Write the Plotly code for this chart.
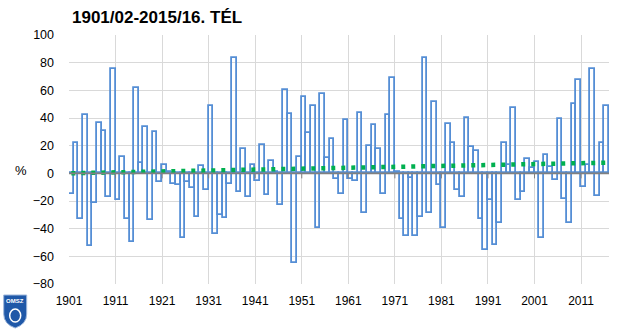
import numpy as np
import plotly.graph_objects as go

# ---- data ----
years = list(range(1901, 2017))
values = [
    -15.2, 22.2, -32.8, 41.9, -52.3, -21.2, 36.1, 30.4, -16.9, 75.2,
    -19.0, 11.6, -32.8, -49.9, 61.4, 7.2, 33.3, -33.5, 29.6, -6.0,
    5.8, 1.0, -7.5, -8.2, -46.5, -6.5, -10.4, -31.3, 5.3, -11.8,
    48.4, -43.6, -30.1, -32.3, -8.0, 83.1, -13.5, 17.6, -17.1, 6.0,
    -5.3, 20.5, -15.4, 8.7, 1.0, -22.7, 60.0, 42.7, -64.8, 11.6,
    55.0, 28.9, 48.4, -39.5, 57.1, 11.1, 24.6, -3.9, -14.7, 38.6,
    -3.9, -5.3, 43.4, -28.4, 19.5, 34.7, 17.3, -14.7, 41.9, 68.7,
    1.0, -32.8, -45.0, -3.1, -45.0, -31.8, 83.1, -28.4, 51.6, -8.4,
    -39.5, 35.4, 21.7, -11.8, -16.9, 39.8, 18.8, 15.9, -32.8, -55.2,
    -19.5, -51.6, -36.1, 21.7, 6.3, 47.0, -19.0, -13.7, 10.4, 4.0,
    8.0, -46.5, 13.3, 4.3, -5.1, 39.0, -18.3, -36.1, 49.9, 67.2,
    -9.6, 6.0, 75.2, -16.6, 21.7, 48.4,
]
tick_years = [1901, 1911, 1921, 1931, 1941, 1951, 1961, 1971, 1981, 1991, 2001, 2011]
y_ticks = [-80, -60, -40, -20, 0, 20, 40, 60, 80, 100]
title_text = "1901/02-2015/16. TÉL"

# linear trend (like the Excel trendline) fitted to the data
xc = np.array(years, dtype=float) + 0.5
slope, icpt = np.polyfit(xc, np.array(values), 1)
trend_x = [xc[0], xc[-1]]
trend_y = [slope * xc[0] + icpt, slope * xc[-1] + icpt]

fig = go.Figure()
fig.add_trace(go.Bar(
    x=xc, y=values, width=1.0,
    marker=dict(color="rgba(0,0,0,0)", line=dict(color="#558ED5", width=1.8)),
    showlegend=False, hoverinfo="skip",
))
fig.add_trace(go.Scatter(
    x=trend_x, y=trend_y, mode="lines",
    line=dict(color="#00B050", width=4.5, dash="4px,6px"),
    showlegend=False, hoverinfo="skip",
))

# pixel -> paper helpers for decorations outside the plot area
L, R, T, B = 69.3, 609.3, 35.3, 284.0
def fx(px):
    return (px - L) / (R - L)
def fy(py):
    return (B - py) / (B - T)

shapes = [
    # zero axis line drawn over the bars
    dict(type="line", xref="paper", yref="y", x0=0, x1=1, y0=0, y1=0,
         line=dict(color="#808080", width=1.8), layer="above"),
]
for ty in tick_years[1:]:
    shapes.append(dict(type="line", xref="x", yref="paper", x0=ty, x1=ty,
                       y0=fy(173.7), y1=fy(178.5),
                       line=dict(color="#808080", width=1), layer="above"))
# OMSZ logo (simple shield)
shield = (f"M {fx(4)},{fy(295)} L {fx(27)},{fy(295)} L {fx(27)},{fy(314)} "
          f"Q {fx(27)},{fy(324)} {fx(15.5)},{fy(328)} Q {fx(4)},{fy(324)} {fx(4)},{fy(314)} Z")
shapes.append(dict(type="path", xref="paper", yref="paper", path=shield,
                   fillcolor="#1F58A8", line=dict(color="#9FB8DC", width=1)))
shapes.append(dict(type="circle", xref="paper", yref="paper",
                   x0=fx(10), x1=fx(21), y0=fy(309), y1=fy(322),
                   line=dict(color="white", width=1.5)))

fig.update_layout(
    width=640, height=330,
    margin=dict(l=69, r=31, t=35, b=46),
    paper_bgcolor="white", plot_bgcolor="white",
    bargap=0,
    font=dict(family="Liberation Sans, Arial, sans-serif", color="#000000"),
    shapes=shapes,
    xaxis=dict(
        range=[1901, 2017], tickmode="array", tickvals=tick_years,
        ticktext=[str(t) for t in tick_years],
        showgrid=True, gridcolor="#D9D9D9", gridwidth=1,
        zeroline=False, showline=False, ticks="",
        tickfont=dict(size=12), ticklabelstandoff=8,
    ),
    yaxis=dict(
        range=[-80, 100], tickmode="array", tickvals=y_ticks,
        showgrid=True, gridcolor="#D9D9D9", gridwidth=1,
        zeroline=False, showline=False, ticks="",
        tickfont=dict(size=12.5), ticklabelstandoff=14,
    ),
    annotations=[
        dict(text=f"<b>{title_text}</b>", xref="paper", yref="paper",
             x=fx(70), y=fy(18), xanchor="left", yanchor="middle",
             showarrow=False, font=dict(size=17, color="#000000")),
        dict(text="%", xref="paper", yref="paper", x=fx(21), y=fy(171),
             xanchor="center", yanchor="middle", showarrow=False,
             font=dict(size=13, color="#000000")),
        dict(text="<b>OMSZ</b>", xref="paper", yref="paper", x=fx(15.5), y=fy(301),
             xanchor="center", yanchor="middle", showarrow=False,
             font=dict(size=6, color="white")),
    ],
)

fig.write_html("out.html")
